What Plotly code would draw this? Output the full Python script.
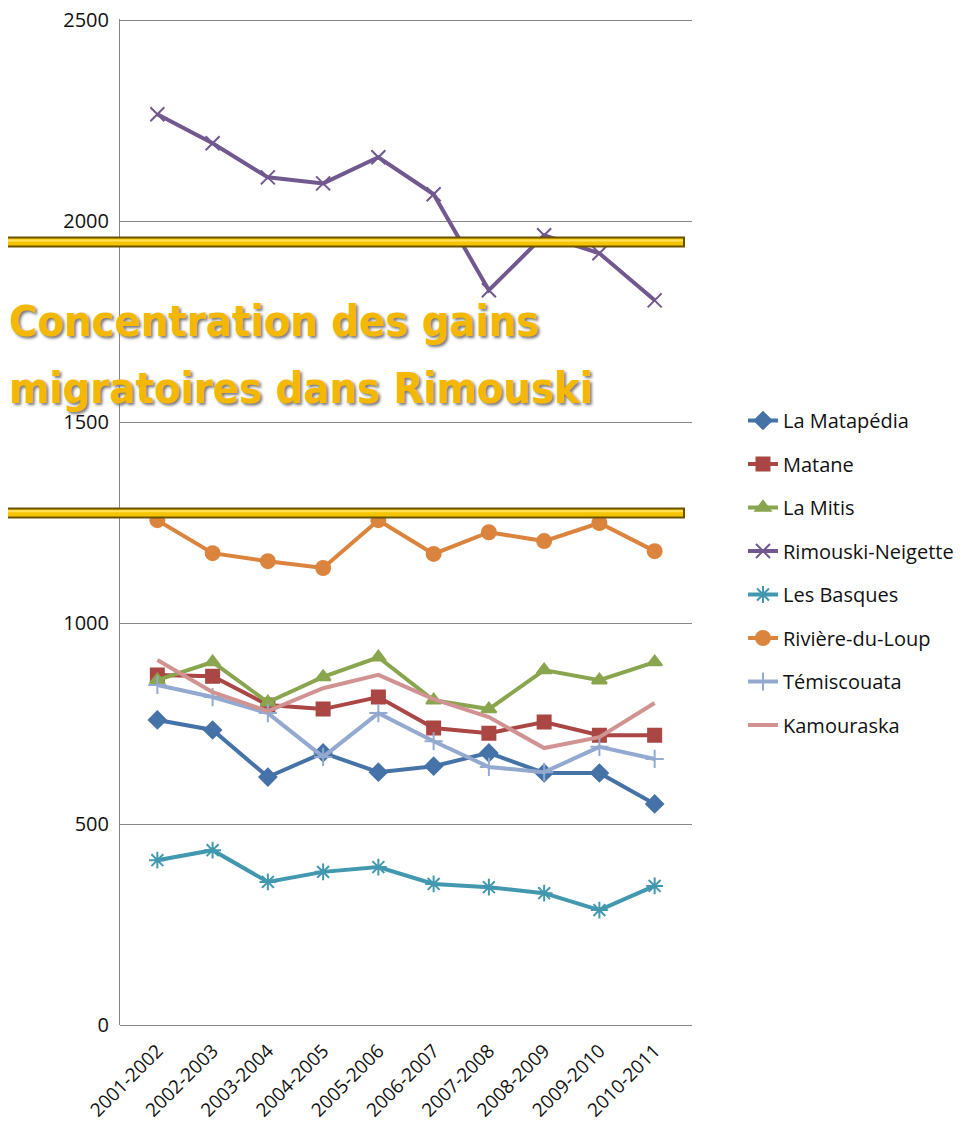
import plotly.graph_objects as go

periods = ["2001-2002", "2002-2003", "2003-2004", "2004-2005", "2005-2006",
           "2006-2007", "2007-2008", "2008-2009", "2009-2010", "2010-2011"]

la_matapedia = [759, 734, 617, 677, 629, 644, 677, 627, 627, 550]
matane = [871, 868, 796, 786, 816, 739, 726, 754, 721, 721]
la_mitis = [858, 903, 803, 866, 915, 808, 786, 883, 858, 903]
rimouski_neigette = [2266, 2194, 2109, 2094, 2159, 2067, 1828, 1965, 1920, 1803]
les_basques = [410, 435, 356, 381, 393, 351, 343, 328, 286, 346]
riviere_du_loup = [1256, 1174, 1154, 1137, 1256, 1172, 1226, 1204, 1249, 1179]
temiscouata = [846, 816, 776, 667, 776, 706, 642, 629, 692, 662]
kamouraska = [908, 828, 781, 838, 871, 811, 766, 689, 716, 801]

series = [
    ("La Matapédia", la_matapedia, "#4572A7", "diamond", 13),
    ("Matane", matane, "#AA4643", "square", 13),
    ("La Mitis", la_mitis, "#89A54E", "triangle-up", 13),
    ("Rimouski-Neigette", rimouski_neigette, "#71588F", "x-thin-open", 14),
    ("Les Basques", les_basques, "#4198AF", "asterisk-open", 14),
    ("Rivière-du-Loup", riviere_du_loup, "#DB843D", "circle", 14),
    ("Témiscouata", temiscouata, "#93A9CF", "cross-thin-open", 13),
    ("Kamouraska", kamouraska, "#D19392", None, 0),
]

title_lines = ["Concentration des gains", "migratoires dans Rimouski"]

# page body has an 8px margin: figure origin is at (8, 8) in the window
OFF = 8
W, H = 947, 1115
PLOT_L, PLOT_R, PLOT_T, PLOT_B = 120, 692, 19, 1025   # window pixels
L, R, T, B = PLOT_L - OFF, W - (PLOT_R - OFF), PLOT_T - OFF, H - (PLOT_B - OFF)
PW, PH = PLOT_R - PLOT_L, PLOT_B - PLOT_T


def px(xw):
    return (xw - PLOT_L) / PW


def py(yw):
    return (PLOT_B - yw) / PH


fig = go.Figure()
for i, (name, vals, color, sym, size) in enumerate(series):
    if sym is None:
        mode = "lines"
        marker = dict()
    else:
        mode = "lines+markers"
        marker = dict(symbol=sym, size=size, color=color,
                      line=dict(color=color, width=2))
    fig.add_trace(go.Scatter(
        x=periods, y=vals, name=name, mode=mode,
        line=dict(color=color, width=4),
        marker=marker, legendgroup=f"g{i}",
    ))

# Decorative gold bars
for yv in [1948, 1274]:
    fig.add_shape(type="line", xref="paper", yref="y",
                  x0=px(0) - 0.01, x1=px(685), y0=yv, y1=yv,
                  line=dict(color="#6b5200", width=11), layer="above")
    fig.add_shape(type="line", xref="paper", yref="y",
                  x0=px(0) - 0.01, x1=px(683), y0=yv, y1=yv,
                  line=dict(color="#F5C400", width=7), layer="above")
    fig.add_shape(type="line", xref="paper", yref="y",
                  x0=px(0) - 0.01, x1=px(683), y0=yv + 4, y1=yv + 4,
                  line=dict(color="#FFE45A", width=2), layer="above")

title_font = dict(family="DejaVu Sans Condensed, Liberation Sans Narrow", size=43,
                  color="#F5B800", weight="bold", shadow="2px 2px 3px #777")
for line_text, ymid in zip(title_lines, [321, 388]):
    fig.add_annotation(
        xref="paper", yref="paper",
        x=px(7), y=py(ymid),
        xanchor="left", yanchor="middle", align="left",
        text=line_text, showarrow=False, font=title_font,
    )

fig.update_layout(
    width=W, height=H,
    margin=dict(l=L, r=R, t=T, b=B, autoexpand=False),
    plot_bgcolor="white", paper_bgcolor="white",
    font=dict(family="Open Sans, Noto Sans, sans-serif", size=16, color="#000"),
    showlegend=True,
    legend=dict(x=px(743), y=py(401), xanchor="left", yanchor="top",
                tracegroupgap=14.5, font=dict(size=20, color="#111"),
                bgcolor="rgba(0,0,0,0)"),
    xaxis=dict(type="category", tickangle=-45, showgrid=False, automargin=False,
               showline=False, ticks="", ticklabelstandoff=10,
               tickfont=dict(size=19, color="#111")),
    yaxis=dict(range=[0, 2503], tickvals=[0, 500, 1000, 1500, 2000, 2500],
               automargin=False, ticklabeloverflow="allow",
               showgrid=True, gridcolor="#868686", gridwidth=1,
               showline=True, linecolor="#868686", linewidth=1,
               zeroline=True, zerolinecolor="#868686", zerolinewidth=1,
               ticks="", ticklabelstandoff=6, tickfont=dict(size=20, color="#111")),
)

fig.write_html("out.html")
